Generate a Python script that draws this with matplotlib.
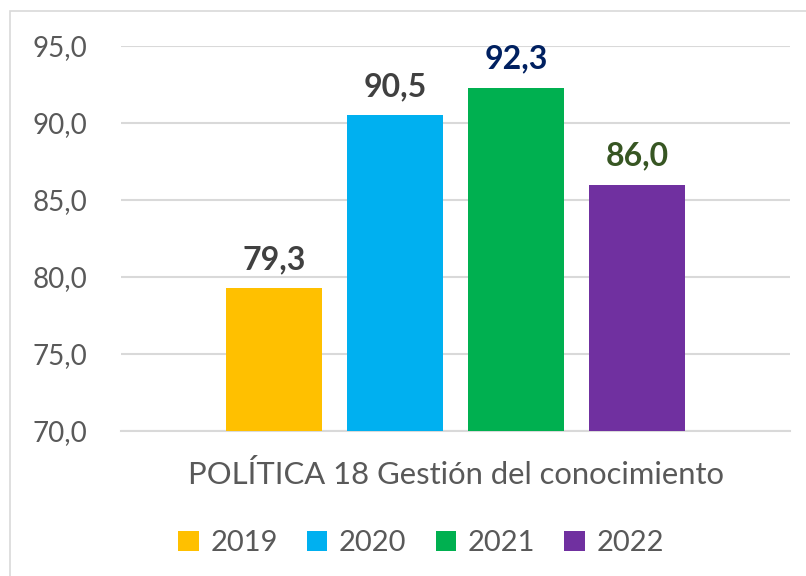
import matplotlib
matplotlib.use("Agg")
import matplotlib.pyplot as plt
from matplotlib.patches import Rectangle

# datos
years = ["2019", "2020", "2021", "2022"]
values = [79.3, 90.5, 92.3, 86.0]
bar_colors = ["#FFC000", "#00B0F0", "#00B050", "#7030A0"]
label_colors = ["#404040", "#404040", "#002060", "#375623"]
category = "POLÍTICA 18 Gestión del conocimiento"
yticks = [70, 75, 80, 85, 90, 95]

plt.rcParams['font.family'] = ['Lato', 'DejaVu Sans']

fig = plt.figure(figsize=(8.06, 5.76), dpi=100)
ax = fig.add_axes([121 / 806, (576 - 431) / 576, (790 - 121) / 806, (431 - 46) / 576])

# marco del gráfico
fig.patches.append(Rectangle((10 / 806, -0.1), 1.2, (576 - 11) / 576 + 0.1,
                             transform=fig.transFigure, fill=False,
                             edgecolor="#D9D9D9", linewidth=1.2, zorder=0))

for i, (y, v, c) in enumerate(zip(years, values, bar_colors)):
    ax.bar(i, v - 70, bottom=70, width=0.79, color=c, label=y, zorder=3)
    ax.annotate(f"{v:.1f}".replace(".", ","), (i, v), xytext=(0, 10),
                textcoords="offset points", ha="center", va="bottom",
                fontsize=23, fontweight="bold", color=label_colors[i])

ax.set_ylim(70, 95)
ax.set_xlim(-1.264, 4.264)
ax.set_yticks(yticks)
ax.set_yticklabels([f"{t:.1f}".replace(".", ",") for t in yticks])
ax.tick_params(axis="y", length=0, labelsize=20, labelcolor="#595959", pad=24)
ax.set_xticks([])
ax.grid(axis="y", color="#D9D9D9", linewidth=1.5, zorder=0)
for s in ["top", "right", "left"]:
    ax.spines[s].set_visible(False)
ax.spines["bottom"].set_color("#D9D9D9")
ax.spines["bottom"].set_linewidth(1.5)

ax.text(0.5, -0.112, category, transform=ax.transAxes, ha="center", va="center",
        fontsize=22.3, color="#595959")

fig.legend(loc="center", bbox_to_anchor=(421 / 806, 1 - 543 / 576), ncol=4,
           frameon=False, fontsize=21, labelcolor="#595959",
           handlelength=0.7, handleheight=0.7, handletextpad=0.4,
           columnspacing=1.0)

fig.savefig("out.png", dpi=100, facecolor="white")
